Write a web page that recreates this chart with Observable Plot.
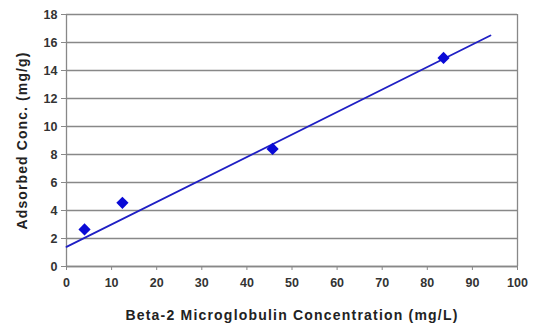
<!DOCTYPE html>
<html><head><meta charset="utf-8">
<script src="https://cdn.jsdelivr.net/npm/d3@7"></script>
<script src="https://cdn.jsdelivr.net/npm/@observablehq/plot@0.6"></script>
<style>
body{margin:0;background:#fff;}
svg{font-family:"Liberation Sans",Arial,sans-serif;}
</style></head><body><div id="chart"></div>
<script>
const concX = [4, 12.4, 45.7, 83.6];
const adsorbedY = [2.65, 4.55, 8.4, 14.9];
const trendX = [0, 94];
const trendY = [1.4, 16.5];
const xTicks = [0,10,20,30,40,50,60,70,80,90,100];
const yTicks = [0,2,4,6,8,10,12,14,16,18];
const xTitle = "Beta-2 Microglobulin Concentration (mg/L)";
const yTitle = "Adsorbed Conc. (mg/g)";

const pts = concX.map((x,i)=>({x, y: adsorbedY[i]}));
const trend = trendX.map((x,i)=>({x, y: trendY[i]}));

const chart = Plot.plot({
  width: 535, height: 327,
  marginLeft: 66, marginRight: 18, marginTop: 14, marginBottom: 61,
  style: {fontFamily: '"Liberation Sans", Arial, sans-serif', fontSize: "12.5px", fontWeight: "bold", color: "#333", background: "#fff"},
  x: {domain: [0,100], ticks: xTicks, label: null},
  y: {domain: [0,18], ticks: yTicks, label: null},
  marks: [
    Plot.gridY(yTicks, {stroke: "#888", strokeOpacity: 1, strokeWidth: 1.3}),
    Plot.ruleX([100], {stroke: "#888", strokeWidth: 1.3}),
    Plot.ruleY([0], {stroke: "#888", strokeWidth: 1.3}),
    Plot.ruleX([0], {stroke: "#888", strokeWidth: 1.3}),
    Plot.axisX({ticks: xTicks, tickSize: 4, tickPadding: 8, stroke: "#888", fill: "#333", fontSize: 12.5, fontWeight: "bold", label: null}),
    Plot.axisY({ticks: yTicks, tickSize: 5, tickPadding: 4, stroke: "#888", fill: "#333", fontSize: 12.5, fontWeight: "bold", label: null}),
    Plot.line(trend, {x: "x", y: "y", stroke: "#1f1fc4", strokeWidth: 1.8}),
    Plot.dot(pts, {x: "x", y: "y", symbol: "diamond2", r: 5.5, fill: "#0a0ad6", stroke: "none"}),
    Plot.text([xTitle], {frameAnchor: "bottom", dy: 53, text: d=>d, fontSize: 14, fontWeight: "bold", fill: "#222", className: "xtitle"}),
    Plot.text([yTitle], {frameAnchor: "left", dx: -44, rotate: -90, textAnchor: "middle", text: d=>d, fontSize: 14, fontWeight: "bold", fill: "#222", className: "ytitle"})
  ]
});
d3.select(chart).selectAll(".xtitle text").attr("letter-spacing", "1.2px");
d3.select(chart).selectAll(".ytitle text").attr("letter-spacing", "1.1px");
document.getElementById("chart").appendChild(chart);
</script></body></html>
